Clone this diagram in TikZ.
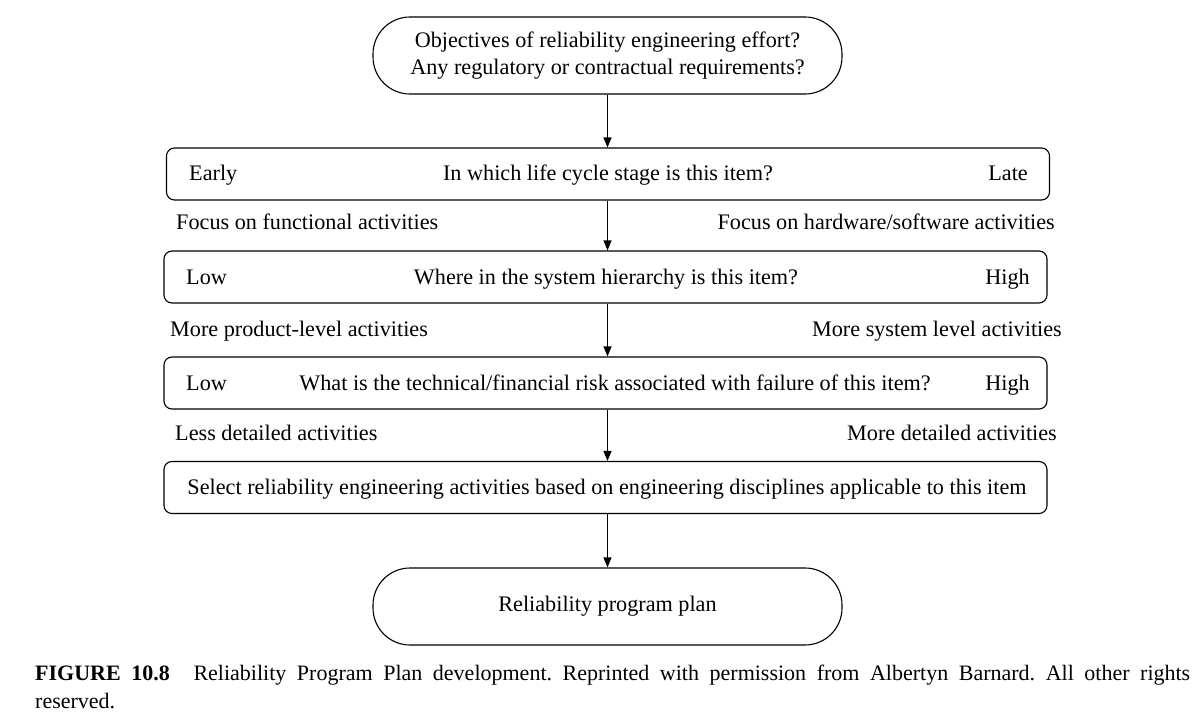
\documentclass[tikz,border=0pt]{standalone}
\usepackage{fontspec}
\setmainfont{Liberation Serif}
\usetikzlibrary{arrows.meta}
\tikzset{
  base/.style={font=\fontsize{22.2}{26}\selectfont, inner sep=0pt},
  term/.style={base, draw, line width=1.1pt, minimum width=469pt, minimum height=77pt, rounded corners=37pt, align=center},
  stage/.style={base, draw, line width=1.1pt, minimum width=883pt, minimum height=52pt, rounded corners=8pt},
  lbl/.style={base},
  arr/.style={line width=1.1pt, -{Triangle[length=10pt,width=8pt]}}
}
\begin{document}
\begin{tikzpicture}[x=1pt,y=-1pt]
\useasboundingbox (0,0) rectangle (1195,725);
\node[term] (obj) at (607.5,55.5) {Objectives of reliability engineering effort?\\[1pt]Any regulatory or contractual requirements?};
\node[stage] (b1) at (608,174) {};
\node[stage] (b2) at (605.5,277) {};
\node[stage] (b3) at (605.5,383) {};
\node[stage] (b4) at (605.5,487.5) {};
\node[term] (plan) at (607.5,606.5) {Reliability program plan};

\node[lbl, anchor=base west] (e1) at (189,180) {Early};
\node[lbl, anchor=base] (q1) at (608,180) {In which life cycle stage is this item?};
\node[lbl, anchor=base east] (l1) at (1028,180) {Late};

\node[lbl, anchor=base west] (f1) at (176,229) {Focus on functional activities};
\node[lbl, anchor=base east] (f2) at (1055,229) {Focus on hardware/software activities};

\node[lbl, anchor=base west] (e2) at (186,284) {Low};
\node[lbl, anchor=base] (q2) at (606,284) {Where in the system hierarchy is this item?};
\node[lbl, anchor=base east] (l2) at (1030,284) {High};

\node[lbl, anchor=base west] (m1) at (170,336) {More product-level activities};
\node[lbl, anchor=base east] (m2) at (1062,336) {More system level activities};

\node[lbl, anchor=base west] (e3) at (186,390) {Low};
\node[lbl, anchor=base] (q3) at (615,390) {What is the technical/financial risk associated with failure of this item?};
\node[lbl, anchor=base east] (l3) at (1030,390) {High};

\node[lbl, anchor=base west] (d1) at (175,440) {Less detailed activities};
\node[lbl, anchor=base east] (d2) at (1057,440) {More detailed activities};

\node[lbl, anchor=base] (q4) at (607,494) {Select reliability engineering activities based on engineering disciplines applicable to this item};

\draw[arr] (obj.south) -- (obj.south |- b1.north);
\draw[arr] (obj.south |- b1.south) -- (obj.south |- b2.north);
\draw[arr] (obj.south |- b2.south) -- (obj.south |- b3.north);
\draw[arr] (obj.south |- b3.south) -- (obj.south |- b4.north);
\draw[arr] (obj.south |- b4.south) -- (plan.north);

\node[anchor=north west, inner sep=0pt, text width=1155pt, align=justify, font=\fontsize{22}{28}\selectfont] (cap) at (35,665)
{\frenchspacing\textbf{FIGURE 10.8}\hspace{0.6em} Reliability Program Plan development. Reprinted with permission from Albertyn Barnard. All other rights\linebreak reserved.};
\end{tikzpicture}
\end{document}
